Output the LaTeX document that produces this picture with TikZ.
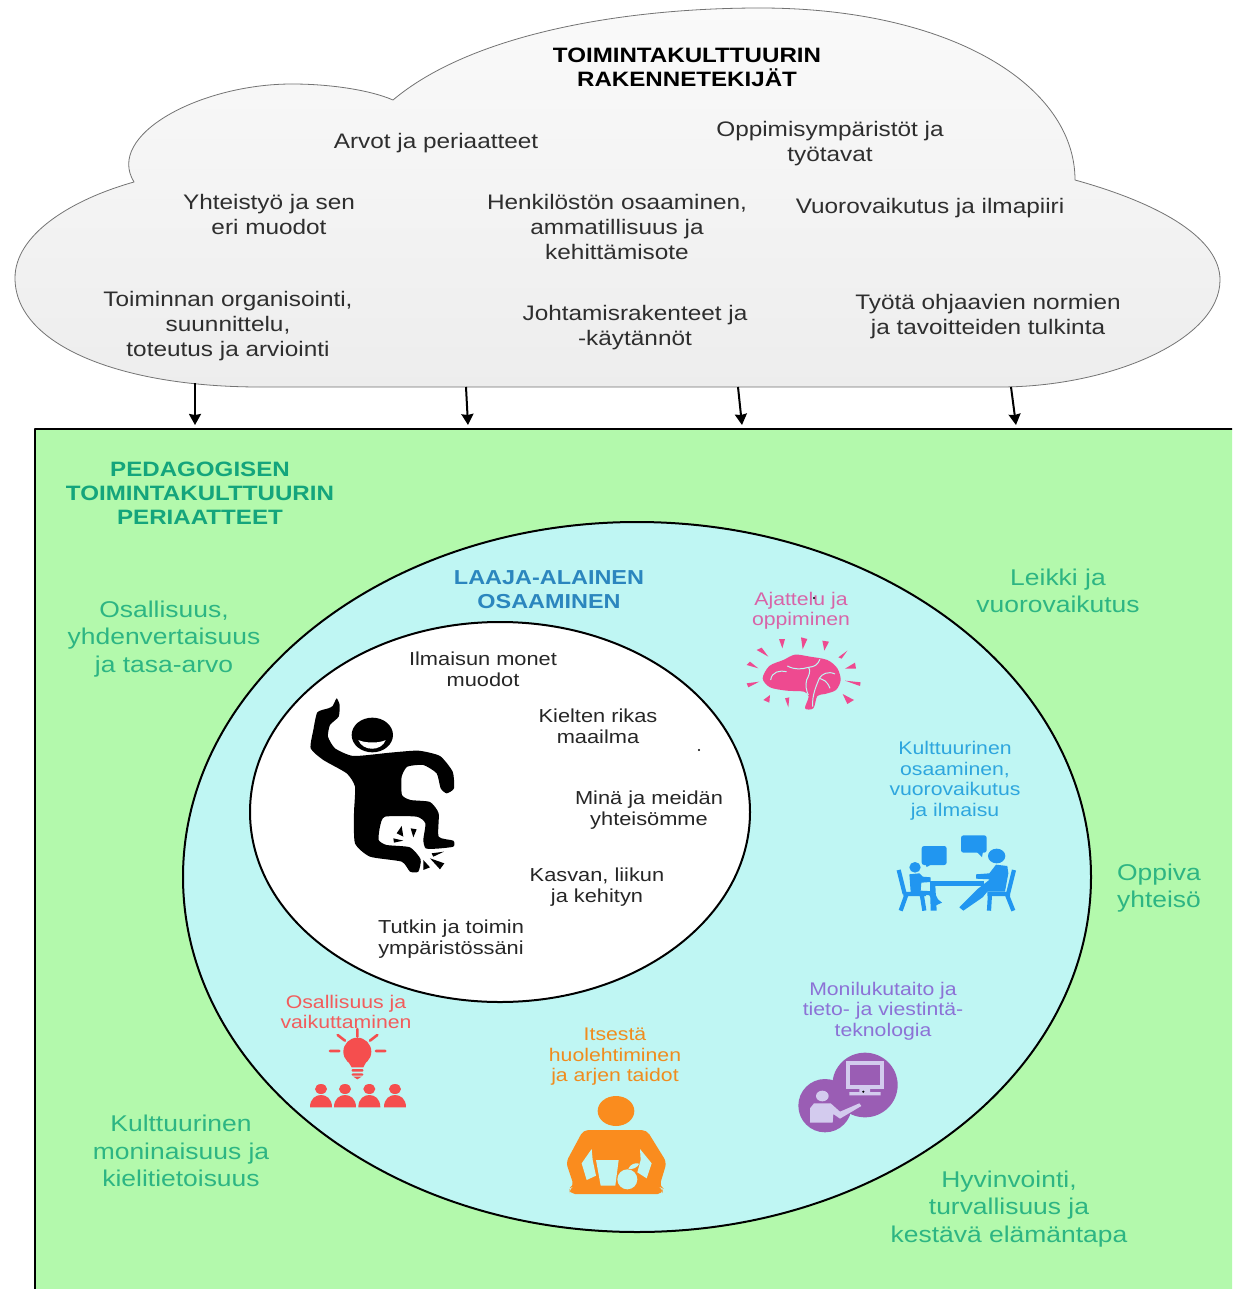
\documentclass[tikz,border=0pt]{standalone}
\usepackage{fontspec}
\usetikzlibrary{arrows.meta}
\setmainfont[FakeStretch=1.16]{Liberation Sans}
\definecolor{greenbg}{HTML}{B3F9AC}
\definecolor{cyanbg}{HTML}{BFF6F3}
\definecolor{headgreen}{HTML}{14A57C}
\definecolor{prigreen}{HTML}{2DB583}
\definecolor{headblue}{HTML}{2B86BE}
\definecolor{cpink}{HTML}{D864A8}
\definecolor{ipink}{HTML}{EE4A90}
\definecolor{cblue}{HTML}{2EA6DE}
\definecolor{iblue}{HTML}{2196F0}
\definecolor{cpurple}{HTML}{8C72D6}
\definecolor{ipurple}{HTML}{9A5DB4}
\definecolor{ilight}{HTML}{D3CBEE}
\definecolor{corange}{HTML}{F08C1E}
\definecolor{iorange}{HTML}{FA8C1E}
\definecolor{cred}{HTML}{F25C5C}
\definecolor{ired}{HTML}{F54E4E}
\tikzset{
  tx/.style={align=center,inner sep=0pt,yshift=-2.5pt,text=black!82,font=\fontsize{21}{25}\selectfont},
  ttl/.style={align=center,inner sep=0pt,yshift=-0.5pt,font=\bfseries\fontsize{20.8}{24}\selectfont},
  pri/.style={align=center,inner sep=0pt,yshift=-2pt,text=prigreen,font=\fontsize{22.8}{27.5}\selectfont},
  sm/.style={align=center,inner sep=0pt,yshift=-2pt,font=\fontsize{18.3}{20.5}\selectfont},
  inn/.style={align=center,inner sep=0pt,yshift=-1.5pt,text=black!85,font=\fontsize{18.8}{21}\selectfont},
  arr/.style={draw=black,line width=2pt,-{Stealth[length=11pt,width=12pt,inset=1pt]}},
}
\begin{document}
\begin{tikzpicture}[x=1pt,y=-1pt,line join=round]
\useasboundingbox (0,0) rectangle (1232,1289);
\fill[white] (0,0) rectangle (1232,1289);
% cloud
\draw[draw=black!55,line width=0.8pt,top color=white!98!black,bottom color=black!7]
 (393,100) .. controls (470,35) and (620,8) .. (760,8)
 .. controls (950,8) and (1075,85) .. (1075,180)
 .. controls (1165,205) and (1220,240) .. (1220,280)
 .. controls (1220,340) and (1110,387) .. (1000,387)
 -- (260,387) .. controls (120,387) and (15,345) .. (15,278)
 .. controls (15,235) and (70,200) .. (134,182)
 .. controls (105,135) and (200,84) .. (292,84)
 .. controls (330,84) and (370,90) .. (393,100) -- cycle;
% main panel
\begin{scope}
\clip (0,0) rectangle (1232,1289);
\draw[fill=greenbg,draw=black,line width=1.8pt] (1240,429) -- (35,429) -- (35,1300) -- (1240,1300);
\end{scope}
\draw[fill=cyanbg,draw=black,line width=2pt] (637,877) ellipse [x radius=454,y radius=355];
\draw[fill=white,draw=black,line width=2pt] (500,812) ellipse [x radius=250,y radius=190];
% arrows
\coordinate (a1) at (195,383); \coordinate (b1) at (195,425);
\coordinate (a2) at (466,387); \coordinate (b2) at (468,425);
\coordinate (a3) at (738,387); \coordinate (b3) at (742,425);
\coordinate (a4) at (1011,387); \coordinate (b4) at (1016,425);
\draw[arr] (a1) -- (b1);
\draw[arr] (a2) -- (b2);
\draw[arr] (a3) -- (b3);
\draw[arr] (a4) -- (b4);
% cloud texts
\node[ttl] (t0) at (687,67) {TOIMINTAKULTTUURIN\\RAKENNETEKIJÄT};
\node[tx] (t1) at (436,141) {Arvot ja periaatteet};
\node[tx] (t2) at (830,141) {Oppimisympäristöt ja\\työtavat};
\node[tx] (t3) at (269,212) {Yhteistyö ja sen\\eri muodot};
\node[tx] (t4) at (617,224) {Henkilöstön osaaminen,\\ammatillisuus ja\\kehittämisote};
\node[tx] (t5) at (930,206) {Vuorovaikutus ja ilmapiiri};
\node[tx] (t6) at (228,324) {Toiminnan organisointi,\\suunnittelu,\\toteutus ja arviointi};
\node[tx] (t7) at (635,325) {Johtamisrakenteet ja\\-käytännöt};
\node[tx] (t8) at (988,314) {Työtä ohjaavien normien\\ja tavoitteiden tulkinta};
% principles
\node[ttl,text=headgreen] (p0) at (200,493) {PEDAGOGISEN\\TOIMINTAKULTTUURIN\\PERIAATTEET};
\node[pri] (p1) at (164,637) {Osallisuus,\\yhdenvertaisuus\\ja tasa-arvo};
\node[pri] (p2) at (1058,589) {Leikki ja\\vuorovaikutus};
\node[pri] (p3) at (1159,886) {Oppiva\\yhteisö};
\node[pri] (p4) at (181,1149) {Kulttuurinen\\moninaisuus ja\\kielitietoisuus};
\node[pri] (p5) at (1009,1207) {Hyvinvointi,\\turvallisuus ja\\kestävä elämäntapa};
% competences
\node[ttl,text=headblue,font=\bfseries\fontsize{20.2}{24}\selectfont] (c0) at (549,589) {LAAJA-ALAINEN\\OSAAMINEN};
\node[sm,text=cpink] (c1) at (801,609) {Ajattelu ja\\oppiminen};
\node[sm,text=cblue] (c2) at (955,779) {Kulttuurinen\\osaaminen,\\vuorovaikutus\\ja ilmaisu};
\node[sm,text=cpurple] (c3) at (883,1009) {Monilukutaito ja\\tieto- ja viestintä-\\teknologia};
\node[sm,text=corange] (c4) at (615,1055) {Itsestä\\huolehtiminen\\ja arjen taidot};
\node[sm,text=cred] (c5) at (346,1010) {Osallisuus ja\\vaikuttaminen};
% inner
\node[inn] (i1) at (483,668) {Ilmaisun monet\\muodot};
\node[inn] (i2) at (598,725) {Kielten rikas\\maailma};
\node[inn] (i3) at (649,809) {Minä ja meidän\\yhteisömme};
\node[inn] (i4) at (597,886) {Kasvan, liikun\\ja kehityn};
\node[inn] (i5) at (451,938) {Tutkin ja toimin\\ympäristössäni};
\fill[black] (699,750) circle [radius=1.2];
\fill[black] (814,598) circle [radius=1.2];
% figure
\begin{scope}[shift={(290,680)},x=0.3333pt,y=-0.3333pt]
\fill[black] plot[smooth cycle,tension=0.35] coordinates {
(140,55)(149,75)(146,110)(120,135)(114,170)(135,205)(190,228)(300,218)(385,212)(450,228)(488,275)(492,325)(470,340)(452,325)(440,280)(400,255)(352,260)(335,290)(336,345)(362,360)(420,366)(446,400)(446,470)(490,482)(490,500)(440,506)(407,505)(400,480)(406,430)(380,410)(285,410)(270,440)(266,480)(290,495)(360,502)(392,538)(385,575)(360,575)(335,545)(240,530)(195,490)(192,400)(195,320)(170,280)(100,240)(62,205)(70,150)(82,97)(115,85)(128,78)};
\fill[black] (247,165) ellipse [x radius=62,y radius=52];
\fill[white] (205,180) .. controls (225,190) and (270,190) .. (287,180) .. controls (275,215) and (218,215) .. (205,180) -- cycle;
\fill[black] (335,438)--(320,460)--(340,470)--cycle;
\fill[black] (362,445)--(380,448)--(370,472)--cycle;
\fill[black] (310,475)--(340,482)--(312,488)--cycle;
\fill[black] (425,520)--(462,515)--(430,530)--cycle;
\fill[black] (420,535)--(463,550)--(450,568)--cycle;
\fill[black] (400,540)--(420,562)--(400,570)--cycle;
\end{scope}
% brain
\begin{scope}[shift={(730,580)},x=0.3333pt,y=-0.3333pt]
\fill[ipink] (147,177)--(165,177)--(157,205)--cycle (213,172)--(232,177)--(218,208)--cycle
 (277,182)--(297,185)--(283,212)--cycle (80,210)--(95,203)--(115,230)--cycle
 (352,212)--(325,232)--(335,236)--cycle (50,255)--(60,245)--(85,265)--cycle
 (375,248)--(345,266)--(378,266)--cycle (50,310)--(88,305)--(55,322)--cycle
 (345,302)--(392,307)--(390,318)--cycle (100,360)--(120,345)--(118,368)--cycle
 (165,355)--(178,352)--(175,382)--cycle (338,342)--(372,360)--(352,372)--cycle;
\fill[ipink] plot[smooth cycle,tension=0.5] coordinates {(98,295)(118,258)(160,240)(195,224)(240,230)(292,240)(322,265)(332,300)(318,330)(285,342)(262,348)(250,385)(225,385)(236,350)(222,335)(170,332)(120,322)};
\draw[cyanbg,line width=1pt] (122,300) .. controls (125,275) and (150,270) .. (170,275)
 (172,258) .. controls (195,270) and (215,268) .. (235,262) .. controls (245,270) and (235,290) .. (230,300) .. controls (225,315) and (230,335) .. (235,345)
 (270,238) .. controls (262,255) and (255,260) .. (235,262)
 (315,282) .. controls (295,272) and (275,282) .. (268,295) .. controls (262,310) and (245,345) .. (248,380)
 (300,325) .. controls (290,300) and (280,300) .. (268,295);
\end{scope}
% meeting
\begin{scope}[shift={(880,820)},x=0.3333pt,y=-0.3333pt]
\fill[iblue,rounded corners=2.5pt] (125,78) rectangle (200,135);
\fill[iblue] (133,125)--(140,141)--(160,130)--cycle;
\fill[iblue,rounded corners=2.5pt] (243,46) rectangle (320,98);
\fill[iblue] (285,90)--(306,111)--(310,90)--cycle;
\draw[iblue,line width=4.2pt,line cap=butt] (56,150)--(74,222) (70,222)--(138,222) (80,222)--(62,272) (125,222)--(133,272);
\draw[iblue,line width=4.2pt,line cap=butt] (402,150)--(384,222) (322,222)--(390,222) (330,222)--(327,272) (380,222)--(400,272);
\fill[iblue] (105,142) ellipse [x radius=17,y radius=16];
\fill[iblue] (88,163)--(118,160)--(128,170)--(152,172)--(152,186)--(124,188)--(122,212)--(162,214)--(174,238)--(186,248)--(166,257)--(148,226)--(92,216)--cycle;
\fill[iblue] (150,183) rectangle (312,197);
\fill[iblue] (150,196)--(166,196)--(170,272)--(152,272)--cycle;
\fill[iblue] (350,108) ellipse [x radius=26,y radius=22];
\fill[iblue] (348,134)--(382,138)--(385,160)--(375,215)--(322,215)--(308,232)--(250,272)--(238,262)--(294,206)--(330,178)--(288,176)--(288,163)--(328,160)--cycle;
\end{scope}
% screen
\begin{scope}[shift={(790,1040)},x=0.3333pt,y=-0.3333pt]
\fill[ipurple] (225,135) ellipse [x radius=98,y radius=97];
\fill[ipurple] (105,197) ellipse [x radius=80,y radius=80];
\fill[ilight] (168,62) rectangle (282,147);
\fill[ipurple] (181,74) rectangle (271,135);
\fill[ilight] (208,147) rectangle (240,158) (178,156) rectangle (272,166);
\fill[ilight] (97,168) ellipse [x radius=19,y radius=16];
\fill[ilight] (60,205)--(72,190)--(122,190)--(150,215)--(208,190)--(214,198)--(150,236)--(130,222)--(128,248)--(60,248)--cycle;
\fill[black] (220,155) circle [radius=3.5];
\end{scope}
% self-care
\begin{scope}[shift={(550,1085)},x=0.3333pt,y=-0.3333pt]
\fill[iorange] (198,78) ellipse [x radius=55,y radius=45];
\fill[iorange,rounded corners=5pt] (100,135)--(290,135)--(350,232)--(328,305)--(338,310)--(338,327)--(60,327)--(58,310)--(72,303)--(48,232)--cycle;
\fill[cyanbg] (125,192)--(95,235)--(110,285)--(138,272)--(128,225)--cycle;
\fill[cyanbg] (270,192)--(305,235)--(290,280)--(262,262)--(272,225)--cycle;
\fill[cyanbg] (138,225)--(206,225)--(196,302)--(152,302)--cycle;
\fill[cyanbg] (232,283) circle [radius=30];
\fill[cyanbg] (235,252) .. controls (240,238) and (255,232) .. (268,236) .. controls (262,248) and (248,254) .. (235,252) -- cycle;
\end{scope}
% bulb
\begin{scope}[shift={(300,1020)},x=0.3333pt,y=-0.3333pt]
\fill[ired] (172,95) circle [radius=42];
\fill[ired] (142,120)--(202,120)--(190,142)--(155,142)--cycle;
\fill[ired,rounded corners=1pt] (155,147) rectangle (190,155) (155,160) rectangle (190,167);
\fill[ired] (160,170) -- (185,170) -- (172,178) -- cycle;
\draw[ired,line width=2.6pt,line cap=round] (172,27)--(172,50) (113,45)--(135,62) (232,45)--(210,62) (90,93)--(118,93) (228,93)--(256,93);
\foreach \xx in {63,135,208,285}{
 \fill[ired] (\xx,207) ellipse [x radius=18,y radius=15];
 \fill[ired] (\xx-33,262) .. controls (\xx-33,235) and (\xx-15,225) .. (\xx,225) .. controls (\xx+15,225) and (\xx+33,235) .. (\xx+33,262) -- cycle;
}
\end{scope}
\end{tikzpicture}
\end{document}
